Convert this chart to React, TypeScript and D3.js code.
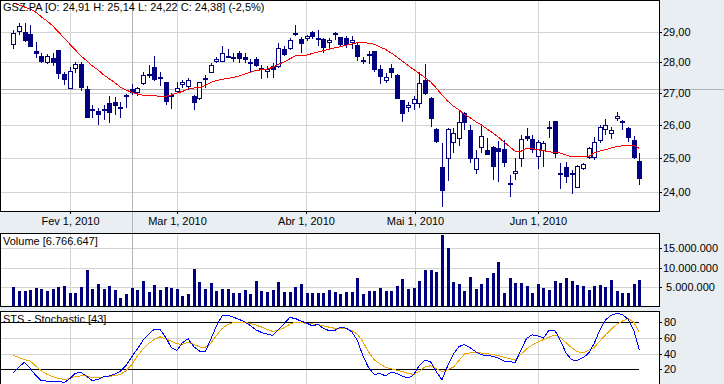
import React from "react";
import * as d3 from "d3";

// OHLC (GSZ.PA, Jan-Jun 2010)
const opens = [
  28.57, 29.0, 29.0, 28.94, 28.37, 28.2, 27.96, 28.12, 28.4, 27.61,
  27.12, 27.77, 27.92, 27.12, 26.48, 26.42, 26.48, 26.67, 26.72, 26.54,
  26.9, 27.13, 26.98, 27.28, 27.6, 27.83, 27.52, 27.36, 26.87, 27.03,
  27.25, 27.18, 26.9, 26.8, 27.47, 27.63, 28.0, 28.0, 28.2, 28.16,
  28.29, 28.16, 28.01, 28.09, 27.79, 27.68, 27.88, 27.85, 28.43, 28.42,
  28.97, 28.76, 28.76, 29.02, 28.8, 28.77, 28.65, 28.91, 28.83, 28.8,
  28.65, 28.57, 28.07, 28.27, 28.37, 27.76, 27.39, 27.79, 27.58, 26.77,
  26.51, 26.63, 26.63, 27.41, 26.82, 25.87, 24.72, 24.96, 25.45, 25.56,
  26.35, 25.84, 24.63, 25.3, 25.24, 25.32, 25.29, 25.26, 24.22, 24.52,
  24.96, 25.66, 25.56, 25.03, 25.21, 25.93, 26.11, 24.55, 24.72, 24.5,
  24.13, 24.67, 25.0, 25.0, 25.49, 25.84, 25.72, 26.17, 26.05, 25.9,
  25.54, 24.91,
];
const highs = [
  29.08, 29.33, 29.31, 29.25, 28.66, 28.31, 28.27, 28.29, 28.4, 27.68,
  27.85, 28.01, 28.01, 27.22, 26.61, 26.51, 26.61, 26.88, 26.86, 26.72,
  26.96, 27.28, 27.19, 27.66, 27.9, 28.2, 27.66, 27.36, 26.99, 27.36,
  27.41, 27.47, 26.93, 27.36, 27.56, 27.96, 28.18, 28.53, 28.43, 28.31,
  28.35, 28.29, 28.09, 28.18, 27.9, 27.87, 27.96, 28.63, 28.53, 28.8,
  29.25, 28.85, 28.91, 29.05, 29.08, 28.82, 28.8, 29.02, 28.85, 28.87,
  28.87, 28.68, 28.16, 28.35, 28.37, 27.9, 27.63, 27.93, 27.6, 26.77,
  26.72, 26.88, 27.68, 27.93, 26.85, 25.89, 25.45, 25.89, 25.89, 26.43,
  26.4, 26.0, 25.24, 26.0, 25.59, 25.34, 25.49, 25.54, 24.5, 25.0,
  25.69, 25.89, 25.69, 25.54, 25.49, 26.1, 26.11, 24.85, 24.87, 24.65,
  24.78, 24.86, 25.33, 25.63, 26.0, 26.18, 25.93, 26.4, 26.15, 25.93,
  25.64, 25.14,
];
const lows = [
  28.44, 28.91, 28.68, 28.51, 28.12, 27.96, 27.93, 27.87, 27.44, 27.25,
  27.12, 27.63, 27.04, 26.22, 26.2, 25.99, 26.15, 26.05, 26.3, 26.2,
  26.52, 26.93, 26.9, 27.25, 27.47, 27.39, 27.22, 26.61, 26.5, 26.99,
  27.14, 27.09, 26.46, 26.77, 27.14, 27.63, 27.96, 28.0, 28.12, 28.01,
  27.96, 27.96, 27.63, 27.85, 27.44, 27.47, 27.47, 27.79, 28.2, 28.4,
  28.88, 28.31, 28.72, 28.77, 28.52, 28.29, 28.4, 28.74, 28.54, 28.45,
  28.43, 28.02, 27.93, 27.93, 27.68, 27.27, 27.3, 27.47, 26.8, 26.09,
  26.4, 26.46, 26.51, 26.93, 25.93, 25.45, 23.59, 24.31, 25.14, 25.36,
  25.85, 24.84, 24.53, 25.15, 25.09, 24.34, 24.3, 24.74, 23.88, 24.36,
  24.74, 25.49, 25.14, 24.67, 24.74, 25.6, 25.0, 24.09, 24.26, 23.96,
  24.13, 24.63, 24.97, 24.93, 25.45, 25.69, 25.57, 26.1, 25.82, 25.47,
  24.95, 24.22,
];
const closes = [
  28.97, 29.22, 28.72, 28.51, 28.26, 27.99, 28.21, 27.96, 27.61, 27.41,
  27.71, 27.92, 27.14, 26.22, 26.44, 26.3, 26.45, 26.37, 26.59, 26.5,
  26.93, 26.98, 27.16, 27.58, 27.55, 27.41, 27.46, 26.72, 26.93, 27.16,
  27.36, 27.41, 26.67, 27.34, 27.49, 27.9, 28.1, 28.31, 28.15, 28.09,
  28.1, 28.05, 27.92, 27.88, 27.74, 27.78, 27.72, 28.46, 28.23, 28.74,
  28.92, 28.6, 28.88, 28.83, 28.77, 28.48, 28.74, 28.99, 28.57, 28.57,
  28.74, 28.16, 28.05, 28.21, 27.74, 27.52, 27.5, 27.65, 26.81, 26.32,
  26.6, 26.79, 27.3, 26.96, 26.17, 25.48, 24.04, 25.86, 25.74, 26.09,
  26.04, 24.96, 24.99, 25.64, 25.09, 24.74, 25.16, 24.86, 24.26, 24.6,
  25.56, 25.57, 25.24, 25.46, 25.44, 25.9, 25.1, 24.51, 24.43, 24.55,
  24.76, 24.82, 25.29, 25.47, 25.93, 25.98, 25.84, 26.28, 26.11, 25.6,
  25.0, 24.38,
];
// moving average (red)
const movingAvg = [
  30.02, 29.95, 29.88, 29.81, 29.7, 29.53, 29.39, 29.22, 29.01, 28.81,
  28.6, 28.4, 28.2, 28.04, 27.87, 27.74, 27.58, 27.45, 27.32, 27.18,
  27.09, 27.01, 26.96, 26.92, 26.91, 26.9, 26.89, 26.88, 26.93, 26.99,
  27.04, 27.12, 27.15, 27.17, 27.23, 27.33, 27.39, 27.43, 27.46, 27.49,
  27.54, 27.6, 27.66, 27.72, 27.74, 27.77, 27.82, 27.92, 28.0, 28.1,
  28.2, 28.22, 28.23, 28.28, 28.33, 28.38, 28.43, 28.47, 28.51, 28.56,
  28.6, 28.65, 28.65, 28.63, 28.59, 28.5, 28.42, 28.3, 28.17, 28.02,
  27.89, 27.75, 27.62, 27.49, 27.35, 27.15, 26.93, 26.74, 26.58, 26.46,
  26.32, 26.21, 26.09, 25.99, 25.87, 25.75, 25.62, 25.47, 25.33, 25.19,
  25.19, 25.28, 25.27, 25.24, 25.21, 25.18, 25.16, 25.14, 25.08, 25.03,
  25.03, 25.03, 25.03, 25.15, 25.2, 25.24, 25.29, 25.33, 25.36, 25.38,
  25.37, 25.28,
];
// volume in millions
const volumes = [
  5.15, 4.05, 4.05, 4.3, 4.8, 4.55, 4.05, 4.55, 5.1, 5.35,
  3.55, 3.55, 5.1, 9.4, 4.55, 5.85, 4.55, 5.35, 4.3, 2.3,
  3.3, 4.8, 4.3, 6.6, 3.8, 5.6, 4.3, 5.1, 4.8, 4.55,
  2.8, 3.3, 9.7, 6.35, 4.55, 6.1, 4.05, 4.55, 4.55, 3.55,
  3.55, 4.3, 3.3, 6.6, 4.05, 3.8, 4.3, 6.35, 3.8, 3.8,
  5.1, 5.85, 3.55, 3.55, 3.55, 3.55, 4.3, 3.8, 3.3, 3.8,
  3.8, 7.4, 3.3, 4.05, 4.05, 4.8, 4.05, 4.05, 5.35, 7.1,
  4.55, 4.8, 6.6, 9.4, 9.4, 8.9, 18.4, 15.1, 6.35, 5.85,
  4.05, 7.65, 4.55, 5.85, 7.4, 8.65, 11.5, 3.55, 7.4, 6.1,
  6.1, 5.35, 3.55, 5.85, 4.8, 4.3, 6.6, 6.1, 7.4, 6.6,
  5.6, 5.35, 4.3, 5.35, 5.6, 5.1, 6.85, 4.05, 3.55, 3.55,
  5.85, 6.77,
];
// stochastic %K (blue) and %D (orange)
const stochK = [
  15.7, 23, 29, 21, 12, 5.3, 5, 5, 5, 3,
  8, 15, 16, 11, 5.5, 7, 10.6, 11.4, 14, 17.5,
  25, 36, 46, 57, 65, 71, 71, 61, 48, 44,
  54, 59, 49, 43.3, 42, 58, 75, 88, 89.2, 86.5,
  84, 80.5, 76, 70.5, 67, 65, 63.2, 70.5, 78, 86,
  85, 81.5, 79, 75.5, 77.3, 72.3, 69.3, 69.5, 73.7, 72.5,
  68, 57, 37, 22, 13.5, 14.5, 11.7, 16.5, 14.5, 11.3,
  8.7, 13, 25, 32, 29.5, 17, 6.5, 24, 39, 49,
  51.5, 47.5, 42.5, 38.5, 37.8, 36.5, 34.2, 30.6, 29.5, 29,
  44, 59.5, 63.9, 62.8, 59.7, 70, 70, 57, 41, 32,
  31.5, 34.7, 40.5, 53, 70, 83, 89, 91.5, 90, 84,
  70, 45,
];
const stochD = [
  38, 35, 32.5, 30.5, 24, 18, 13.5, 10.5, 8.5, 7,
  8, 11, 11.5, 11.5, 9, 9.5, 10.2, 11, 12, 13.3,
  18.5, 26, 37, 46, 53, 58, 61.5, 59, 56, 52.5,
  52, 54.5, 52, 48.5, 48, 53, 63, 72, 77, 79.6,
  80, 80, 78.5, 76.5, 74, 71, 68.3, 70, 73, 77.5,
  80, 79.5, 78.8, 78, 77, 75.5, 73.8, 72.4, 72.4, 72.4,
  69.5, 65, 55, 42, 32, 27, 22.5, 20.5, 19, 17,
  15, 13.3, 17.5, 23, 24.5, 21, 17, 19.5, 22.5, 31,
  39.5, 41, 41.2, 40.8, 39.8, 38.8, 37.5, 35.5, 33.7, 32,
  39, 46, 51, 54.5, 58, 61, 63.6, 60.5, 54, 47.5,
  42.5, 40.8, 44.5, 48, 56, 64, 71, 77.5, 81.5, 85,
  80.5, 67,
];

const dateLabels = ["Fev 1, 2010", "Mar 1, 2010", "Abr 1, 2010", "Mai 1, 2010", "Jun 1, 2010"];
const dateIdx = [10.1, 29.05, 52, 71.4, 93.1];
const priceTicks = [24, 25, 26, 27, 28, 29];
const volTicks = [5e6, 10e6, 15e6];
const volTickLabels = ["5.000.000", "10.000.000", "15.000.000"];
const stochGrid = [40, 60];
const stochBands = [20, 80];
const stochTicks = [20, 40, 60, 80];
const crosshair = { index: 21.15, price: 27.13 };

const W = 724;
const H = 384;
const right = 659;
const priceBox = { top: 0, bottom: 211 };
const volBox = { top: 233, bottom: 306 };
const stoBox = { top: 311, bottom: 400 };

const NAVY = "#000080";
const GRID = "#d4d4d4";
const BG = "#e9eef2";
const FONT = "Liberation Sans, Arial, sans-serif";

const App = () => {
  const n = closes.length;
  const x = d3.scaleLinear().domain([0, n - 1]).range([13.3, 639.3]);
  const yPrice = d3.scaleLog().domain([24, 29]).range([192.3, 32.3]);
  const yVol = d3.scaleLinear().domain([0, 15e6]).range([306.8, 248.3]);
  const ySto = d3.scaleLinear().domain([20, 80]).range([369.3, 322.3]);

  const px = (i) => Math.round(x(i));
  const gx = (t) => Math.floor(x(t)) + 0.5;
  const hy = (v) => Math.round(v) + 0.5;

  const maLine = d3
    .line<number>()
    .x((d, i) => x(i))
    .y((d) => yPrice(d));
  const kLine = d3
    .line<number>()
    .x((d, i) => x(i))
    .y((d) => ySto(d));

  const vgrid = (top, bottom) =>
    dateIdx.map((t, i) => (
      <line key={i} x1={gx(t)} x2={gx(t)} y1={top} y2={bottom} stroke={GRID} />
    ));

  const cx = gx(crosshair.index);
  const cy = hy(yPrice(crosshair.price));

  return (
    <svg width={W} height={H} style={{ position: "absolute", left: 0, top: 0, fontFamily: FONT }}>
      <defs>
        <clipPath id="clipPrice">
          <rect x={0} y={priceBox.top} width={right} height={priceBox.bottom - priceBox.top} />
        </clipPath>
        <clipPath id="clipSto">
          <rect x={0} y={stoBox.top} width={right} height={H - stoBox.top} />
        </clipPath>
      </defs>
      <rect width={W} height={H} fill={BG} />

      {/* price panel */}
      <rect x={0} y={priceBox.top} width={right} height={priceBox.bottom - priceBox.top} fill="#fff" />
      {priceTicks.map((t) => (
        <line key={t} x1={0} x2={right} y1={hy(yPrice(t))} y2={hy(yPrice(t))} stroke={GRID} />
      ))}
      {vgrid(priceBox.top, priceBox.bottom)}

      {/* volume panel */}
      <rect x={0} y={volBox.top} width={right} height={volBox.bottom - volBox.top} fill="#fff" />
      {volTicks.map((t) => (
        <line key={t} x1={0} x2={right} y1={hy(yVol(t))} y2={hy(yVol(t))} stroke={GRID} />
      ))}
      {vgrid(volBox.top, volBox.bottom)}

      {/* stochastic panel */}
      <rect x={0} y={stoBox.top} width={right} height={stoBox.bottom - stoBox.top} fill="#fff" />
      {stochGrid.map((t) => (
        <line key={t} x1={0} x2={right} y1={hy(ySto(t))} y2={hy(ySto(t))} stroke={GRID} />
      ))}
      {vgrid(stoBox.top, H)}

      {/* crosshair */}
      <line x1={cx} x2={cx} y1={0} y2={H} stroke="#b4b4b4" />
      <line x1={0} x2={W} y1={cy} y2={cy} stroke="#b4b4b4" />

      {/* candles */}
      <g shapeRendering="crispEdges">
        {closes.map((c, i) => {
          const o = opens[i];
          const up = c >= o;
          const top = Math.round(yPrice(Math.max(o, c)));
          const bot = Math.round(yPrice(Math.min(o, c)));
          const h = Math.max(bot - top, 1);
          const xc = px(i);
          return (
            <g key={i}>
              <line
                x1={xc + 0.5}
                x2={xc + 0.5}
                y1={Math.round(yPrice(highs[i]))}
                y2={Math.round(yPrice(lows[i]))}
                stroke={NAVY}
              />
              {up ? (
                <rect x={xc - 1.5} y={top + 0.5} width={4} height={Math.max(h - 1, 1)} fill="#fff" stroke={NAVY} />
              ) : (
                <rect x={xc - 2} y={top} width={5} height={Math.max(h, 2)} fill={NAVY} />
              )}
            </g>
          );
        })}
      </g>
      <path
        d={maLine(movingAvg)}
        fill="none"
        stroke="#ff0000"
        clipPath="url(#clipPrice)"
        shapeRendering="crispEdges"
      />

      {/* volume bars */}
      <g shapeRendering="crispEdges">
        {volumes.map((v, i) => {
          const y = Math.round(yVol(v * 1e6));
          return <rect key={i} x={px(i) - 1} y={y} width={3} height={volBox.bottom - y} fill={NAVY} />;
        })}
      </g>

      {/* stochastic */}
      {stochBands.map((t) => (
        <line key={t} x1={0} x2={Math.round(x(n - 1))} y1={hy(ySto(t))} y2={hy(ySto(t))} stroke="#000" />
      ))}
      <g clipPath="url(#clipSto)" shapeRendering="crispEdges">
        <path d={kLine(stochD)} fill="none" stroke="#f0a800" />
        <path d={kLine(stochK)} fill="none" stroke="#0000ff" />
      </g>

      {/* frames */}
      <g fill="none" stroke="#000" shapeRendering="crispEdges">
        <rect x={0.5} y={priceBox.top + 0.5} width={right - 0.5} height={priceBox.bottom - priceBox.top - 0.5} />
        <rect x={0.5} y={volBox.top + 0.5} width={right - 0.5} height={volBox.bottom - volBox.top - 0.5} />
        <rect x={0.5} y={stoBox.top + 0.5} width={right - 0.5} height={stoBox.bottom - stoBox.top} />
      </g>

      {/* right axes */}
      <g fontSize={11} fill="#000">
        {priceTicks.map((t) => (
          <g key={t}>
            <line x1={right} x2={right + 3} y1={hy(yPrice(t))} y2={hy(yPrice(t))} stroke="#000" />
            <text x={right + 4} y={yPrice(t) + 4}>
              {d3.format(".2f")(t).replace(".", ",")}
            </text>
          </g>
        ))}
        {volTicks.map((t, i) => (
          <g key={t}>
            <line x1={right} x2={right + 3} y1={hy(yVol(t))} y2={hy(yVol(t))} stroke="#000" />
            <text x={right + 31.5} y={yVol(t) + 4} textAnchor="middle">
              {volTickLabels[i]}
            </text>
          </g>
        ))}
        {stochTicks.map((t) => (
          <g key={t}>
            <line x1={right} x2={right + 3} y1={hy(ySto(t))} y2={hy(ySto(t))} stroke="#000" />
            <text x={right + 5} y={ySto(t) + 4}>
              {t}
            </text>
          </g>
        ))}
        {dateIdx.map((t, i) => (
          <g key={i}>
            <line x1={gx(t)} x2={gx(t)} y1={priceBox.bottom} y2={priceBox.bottom + 3} stroke="#000" />
            <text x={gx(t)} y={225} textAnchor="middle">
              {dateLabels[i]}
            </text>
          </g>
        ))}
      </g>

      {/* panel titles */}
      <g fontSize={11} fill="#000">
        <text x={3} y={11}>GSZ.PA [O: 24,91 H: 25,14 L: 24,22 C: 24,38] (-2,5%)</text>
        <text x={3} y={245}>Volume [6.766.647]</text>
        <text x={3} y={323}>STS - Stochastic [43]</text>
      </g>
    </svg>
  );
};

export default App;
